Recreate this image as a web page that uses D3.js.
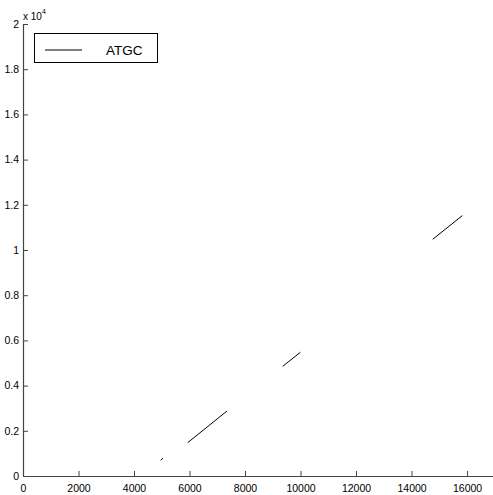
<!DOCTYPE html>
<html>
<head>
<meta charset="utf-8">
<script src="https://d3js.org/d3.v7.min.js"></script>
<style>
  body { margin: 0; background: #fff; }
  svg { display: block; font-family: "Liberation Sans", Arial, sans-serif; }
</style>
</head>
<body>
<svg id="chart" width="493" height="495"></svg>
<script>
'use strict';

// ─── DATA ────────────────────────────────────────────────────
// segments of the ATGC series (x, y); null marks a break in the line
var seriesName = 'ATGC';
var xs = [4960, 5040, null, 5935, 7350, null, 9360, 9995, null, 14765, 15830];
var ys = [700, 780, null, 1475, 2875, null, 4855, 5475, null, 10475, 11520];
var xTicks = [0, 2000, 4000, 6000, 8000, 10000, 12000, 14000, 16000];
var yTicks = [0, 0.2, 0.4, 0.6, 0.8, 1, 1.2, 1.4, 1.6, 1.8, 2];
var yExponent = 4;

// ─── LAYOUT ──────────────────────────────────────────────────
var svg = d3.select('#chart');
var plotLeft = 23, plotBottom = 476, plotTop = 24, plotRight = 494.8;

var x = d3.scaleLinear().domain([0, 17000]).range([plotLeft, plotRight]);
var y = d3.scaleLinear().domain([0, 2e4]).range([plotBottom, plotTop]);

var axisColor = '#444';

// x axis
var gx = svg.append('g').attr('transform', 'translate(0,' + plotBottom + ')');
gx.call(d3.axisBottom(x).tickValues(xTicks).tickSizeInner(-5).tickSizeOuter(0)
    .tickPadding(9).tickFormat(d3.format('d')));

// y axis
var gy = svg.append('g').attr('transform', 'translate(' + plotLeft + ',0)');
gy.call(d3.axisLeft(y).tickValues(yTicks.map(function(v) { return v * Math.pow(10, yExponent); }))
    .tickSizeInner(-5).tickSizeOuter(0).tickPadding(4)
    .tickFormat(function(d) { return String(+(d / Math.pow(10, yExponent)).toFixed(1)); }));

[gx, gy].forEach(function(g) {
    g.select('.domain').attr('stroke', axisColor).attr('stroke-width', 1.2);
    g.selectAll('.tick line').attr('stroke', axisColor);
    g.selectAll('.tick text').attr('fill', '#000').attr('font-size', 10.5)
        .attr('font-family', '"Liberation Sans", Arial, sans-serif');
});

// exponent label
var ex = svg.append('text').attr('x', plotLeft).attr('y', 20)
    .attr('font-size', 10).attr('fill', '#000');
ex.append('tspan').text('x 10');
ex.append('tspan').attr('dy', -6).attr('font-size', 7).text(yExponent);

// ─── SERIES ──────────────────────────────────────────────────
var pts = xs.map(function(v, i) { return [v, ys[i]]; });
var line = d3.line()
    .defined(function(d) { return d[0] !== null && d[1] !== null; })
    .x(function(d) { return x(d[0]); })
    .y(function(d) { return y(d[1]); });

svg.append('path').datum(pts)
    .attr('d', line)
    .attr('fill', 'none')
    .attr('stroke', '#000')
    .attr('stroke-width', 1);

// ─── LEGEND ──────────────────────────────────────────────────
var lg = svg.append('g');
lg.append('rect').attr('x', 34.5).attr('y', 33.5).attr('width', 123).attr('height', 29)
    .attr('fill', '#fff').attr('stroke', '#000').attr('stroke-width', 1);
lg.append('line').attr('x1', 45).attr('x2', 82).attr('y1', 50).attr('y2', 50)
    .attr('stroke', '#000').attr('stroke-width', 1);
lg.append('text').attr('x', 106).attr('y', 54.5).attr('font-size', 13.5)
    .attr('fill', '#000').text(seriesName);
</script>
</body>
</html>
